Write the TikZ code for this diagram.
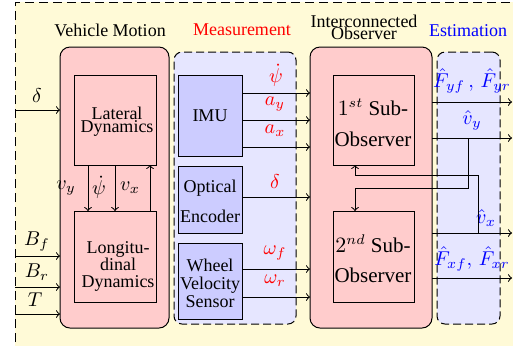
\documentclass[tikz,border=0pt]{standalone}
\usepackage{fontspec}
\setmainfont{Liberation Serif}
\definecolor{bgyellow}{RGB}{255,250,215}
\definecolor{grouppink}{RGB}{255,204,204}
\definecolor{grouplav}{RGB}{230,230,255}
\definecolor{sensorblue}{RGB}{204,204,255}
\begin{document}
\begin{tikzpicture}[x=0.5pt,y=-0.5pt,line width=0.5pt,
  every node/.style={inner sep=0pt,outer sep=0pt},
  txt/.style={font=\fontsize{9}{10}\selectfont,align=center},
  bigtxt/.style={font=\fontsize{10.5}{12}\selectfont,align=center},
  lbl/.style={font=\fontsize{10}{12}\selectfont},
  meas/.style={lbl,text=red},
  est/.style={lbl,text=blue},
  solidgroup/.style={draw,fill=grouppink,rounded corners=5pt,anchor=north west},
  dashgroup/.style={draw,fill=grouplav,rounded corners=4pt,dash pattern=on 4pt off 2pt,anchor=north west},
  block/.style={draw,anchor=north west},
  sensor/.style={draw,fill=sensorblue,anchor=north west}]

\useasboundingbox (0,0) rectangle (513,345);

% background panel
\fill[bgyellow] (15,2) rectangle (540,370);
\draw[dash pattern=on 4.5pt off 2.5pt] (15,370) -- (15,2) -- (540,2);

% group titles
\node[txt] (tVM) at (110,30) {Vehicle Motion};
\node[txt,text=red] (tMeas) at (242,30) {Measurement};
\node[txt] (tIO) at (364,27) {Interconnected\\[-4pt]Observer};
\node[txt,text=blue] (tEst) at (468,31) {Estimation};

% group containers
\node[solidgroup,minimum width=54.5pt,minimum height=140.5pt] (vm) at (60,47) {};
\node[dashgroup,minimum width=61pt,minimum height=136pt] (meas) at (174,52) {};
\node[solidgroup,minimum width=61pt,minimum height=140.5pt] (io) at (310,47) {};
\node[dashgroup,minimum width=31.5pt,minimum height=136pt] (estg) at (437,52) {};

% vehicle motion blocks
\node[block,minimum width=41pt,minimum height=45pt] (lat) at (74,75) {};
\node[block,minimum width=41pt,minimum height=45.5pt] (lon) at (74,211) {};
\node[txt] (latT) at (117,122) {Lateral\\[-3.5pt]Dynamics};
\node[txt] (lonT) at (118,266) {Longitu-\\[-1.5pt]dinal\\[-1.5pt]Dynamics};

% sensors
\node[sensor,minimum width=32pt,minimum height=40.5pt] (imu) at (178,75) {};
\node[sensor,minimum width=32pt,minimum height=33.5pt] (enc) at (178,166) {};
\node[sensor,minimum width=32pt,minimum height=38pt] (wvs) at (178,243) {};
\node[txt] (imuT) at (210,116) {IMU};
\node[txt] (encT) at (210,201) {Optical\\[5pt]Encoder};
\node[txt] (wvsT) at (210,283) {Wheel\\[-1pt]Velocity\\[-1pt]Sensor};

% sub-observers
\node[block,minimum width=40.5pt,minimum height=45pt] (s1) at (333,75) {};
\node[block,minimum width=40.5pt,minimum height=45.5pt] (s2) at (333,211) {};
\node[bigtxt] (s1T) at (373,123) {$1^{st}$ Sub-\\[3.5pt]Observer};
\node[bigtxt] (s2T) at (373,259) {$2^{nd}$ Sub-\\[3pt]Observer};

% vehicle inputs
\coordinate (inD) at (15,110);
\coordinate (inBf) at (15,256);
\coordinate (inBr) at (15,287);
\coordinate (inT) at (15,314);
\foreach \c in {inD,inBf,inBr,inT}
  \draw[->] (\c) -- (\c -| vm.west);
\node[lbl] (lD) at (37,96) {$\delta$};
\node[lbl] (lBf) at (37,242) {$B_f$};
\node[lbl] (lBr) at (37,272) {$B_r$};
\node[lbl] (lT) at (35,300) {$T$};

% coupling between lateral and longitudinal dynamics
\coordinate (xVy) at (88,0);
\coordinate (xPsi) at (115,0);
\coordinate (xVx) at (150,0);
\draw[->] (lat.south -| xVy) -- (lon.north -| xVy);
\draw[->] (lat.south -| xPsi) -- (lon.north -| xPsi);
\draw[->] (lon.north -| xVx) -- (lat.south -| xVx);
\node[lbl] (lVy) at (66,188) {$v_y$};
\node[lbl] (lPsi) at (99,187) {$\dot\psi$};
\node[lbl] (lVx) at (130,188) {$v_x$};

% measured signals into the observer
\coordinate (yPsi) at (0,93);
\coordinate (yAy) at (0,120);
\coordinate (yAx) at (0,147);
\coordinate (yDel) at (0,197);
\coordinate (yWf) at (0,269);
\coordinate (yWr) at (0,297);
\draw[->] (imu.east |- yPsi) -- (io.west |- yPsi);
\draw[->] (imu.east |- yAy) -- (io.west |- yAy);
\draw[->] (imu.east |- yAx) -- (io.west |- yAx);
\draw[->] (enc.east |- yDel) -- (io.west |- yDel);
\draw[->] (wvs.east |- yWf) -- (io.west |- yWf);
\draw[->] (wvs.east |- yWr) -- (io.west |- yWr);
\node[meas] (mPsi) at (276,75) {$\dot\psi$};
\node[meas] (mAy) at (275,104) {$a_y$};
\node[meas] (mAx) at (275,131) {$a_x$};
\node[meas] (mDel) at (275,182) {$\delta$};
\node[meas] (mWf) at (275,253) {$\omega_f$};
\node[meas] (mWr) at (275,281) {$\omega_r$};

% estimated outputs
\coordinate (oFy) at (512,102);
\coordinate (oVy) at (512,138);
\coordinate (oVx) at (512,233);
\coordinate (oFx) at (512,278);
\foreach \c in {oFy,oVy,oVx,oFx}
  \draw[->] (io.east |- \c) -- (\c);
\node[est] (eFy) at (472,81) {$\hat{F}_{yf}\,,\,\hat{F}_{yr}$};
\node[est] (eVy) at (472,120) {$\hat{v}_y$};
\node[est] (eVx) at (486,218) {$\hat{v}_x$};
\node[est] (eFx) at (472,259) {$\hat{F}_{xf},\,\hat{F}_{xr}$};

% feedback between the sub-observers
\coordinate (jVx) at (478,233);
\coordinate (jVy) at (468,138);
\coordinate (fbUp) at (355,175);
\coordinate (fbDn) at (355,188);
\draw[->] (jVx) |- (fbUp) -- (fbUp |- s1.south);
\draw[->] (jVy) |- (fbDn) -- (fbDn |- s2.north);
\end{tikzpicture}
\end{document}
